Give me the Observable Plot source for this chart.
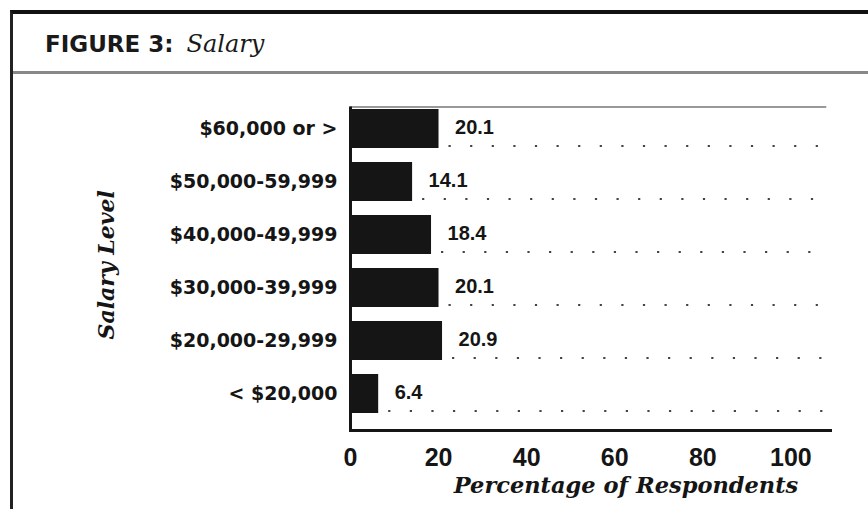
<!DOCTYPE html>
<html><head><meta charset="utf-8">
<script src="https://cdn.jsdelivr.net/npm/d3@7"></script>
<script src="https://cdn.jsdelivr.net/npm/@observablehq/plot@0.6"></script>
<style>
html,body{margin:0;padding:0;background:#fff;}
#wrap{position:relative;width:868px;height:509px;overflow:hidden;}
#head{position:relative;height:75px;}
#title{position:absolute;left:45px;top:33px;font-size:23px;line-height:23px;white-space:nowrap;color:#1a1a1a;}
#title .fig{font-family:"DejaVu Sans";font-weight:bold;}
#title .sub{font-family:"DejaVu Serif";font-style:italic;font-size:24px;margin-left:13px;}
#frame{position:absolute;left:10px;top:10px;width:900px;height:600px;border-top:4px solid #111;border-left:3px solid #222;pointer-events:none;}
#sep{position:absolute;left:10px;top:71px;width:900px;height:3px;background:#888;}
#chart svg{display:block}
</style></head>
<body>
<div id="wrap">
  <div id="head"><div id="title"><span class="fig">FIGURE 3:</span><span class="sub">Salary</span></div><div id="sep"></div></div>
  <div id="chart"></div>
  <div id="frame"></div>
</div>
<script>
const categories = ["$60,000 or >", "$50,000-59,999", "$40,000-49,999", "$30,000-39,999", "$20,000-29,999", "< $20,000"];
const percentages = [20.1, 14.1, 18.4, 20.1, 20.9, 6.4];
const xTicks = [0, 20, 40, 60, 80, 100];
const xTitle = "Percentage of Respondents";
const yTitle = "Salary Level";

const data = categories.map((c, i) => ({category: c, value: percentages[i]}));
const ink = "#151515";

const chart = Plot.plot({
  width: 868, height: 434,
  marginLeft: 350, marginRight: 38, marginTop: 31.5, marginBottom: 79,
  style: {background: "transparent", overflow: "visible", color: ink},
  x: {domain: [0, 109], label: null},
  y: {domain: categories, range: [31.5, 340], paddingInner: 0.26, paddingOuter: 0, label: null},
  marks: [
    Plot.frame({anchor: "top", stroke: "#777", strokeWidth: 1.5, insetRight: 5}),
    Plot.ruleY(data, {y: "category", x1: "value", x2: 108, dy: 17, stroke: "#444", strokeWidth: 2.2, strokeDasharray: "2.2 19.4", strokeDashoffset: 11.6}),
    Plot.barX(data, {y: "category", x: "value", fill: ink}),
    Plot.text(data, {y: "category", x: "value", text: d => d.value.toFixed(1), dx: 16, dy: -1, textAnchor: "start", fontSize: 20, fontWeight: "bold", fontFamily: "Liberation Sans", fill: ink}),
    Plot.ruleX([0], {stroke: ink, strokeWidth: 3}),
    Plot.frame({anchor: "bottom", stroke: ink, strokeWidth: 3}),
    Plot.axisY({tickSize: 0, tickPadding: 13, fontSize: 19, fontWeight: "bold", fontFamily: "DejaVu Sans", label: null}),
    Plot.axisX({ticks: xTicks, tickSize: 0, tickPadding: 18, fontSize: 25, fontWeight: "bold", fontFamily: "Liberation Sans", label: null}),
    Plot.text([xTitle], {frameAnchor: "bottom", text: d => d, textAnchor: "middle", dx: 35.5, dy: 62, fontSize: 22.5, fontStyle: "italic", fontWeight: "bold", fontFamily: "DejaVu Serif", fill: ink}),
    Plot.text([yTitle], {frameAnchor: "left", text: d => d, textAnchor: "middle", rotate: -90, dx: -244, dy: -4, fontSize: 22, fontStyle: "italic", fontWeight: "bold", fontFamily: "DejaVu Serif", fill: ink})
  ]
});
document.getElementById("chart").appendChild(chart);
</script>
</body></html>
